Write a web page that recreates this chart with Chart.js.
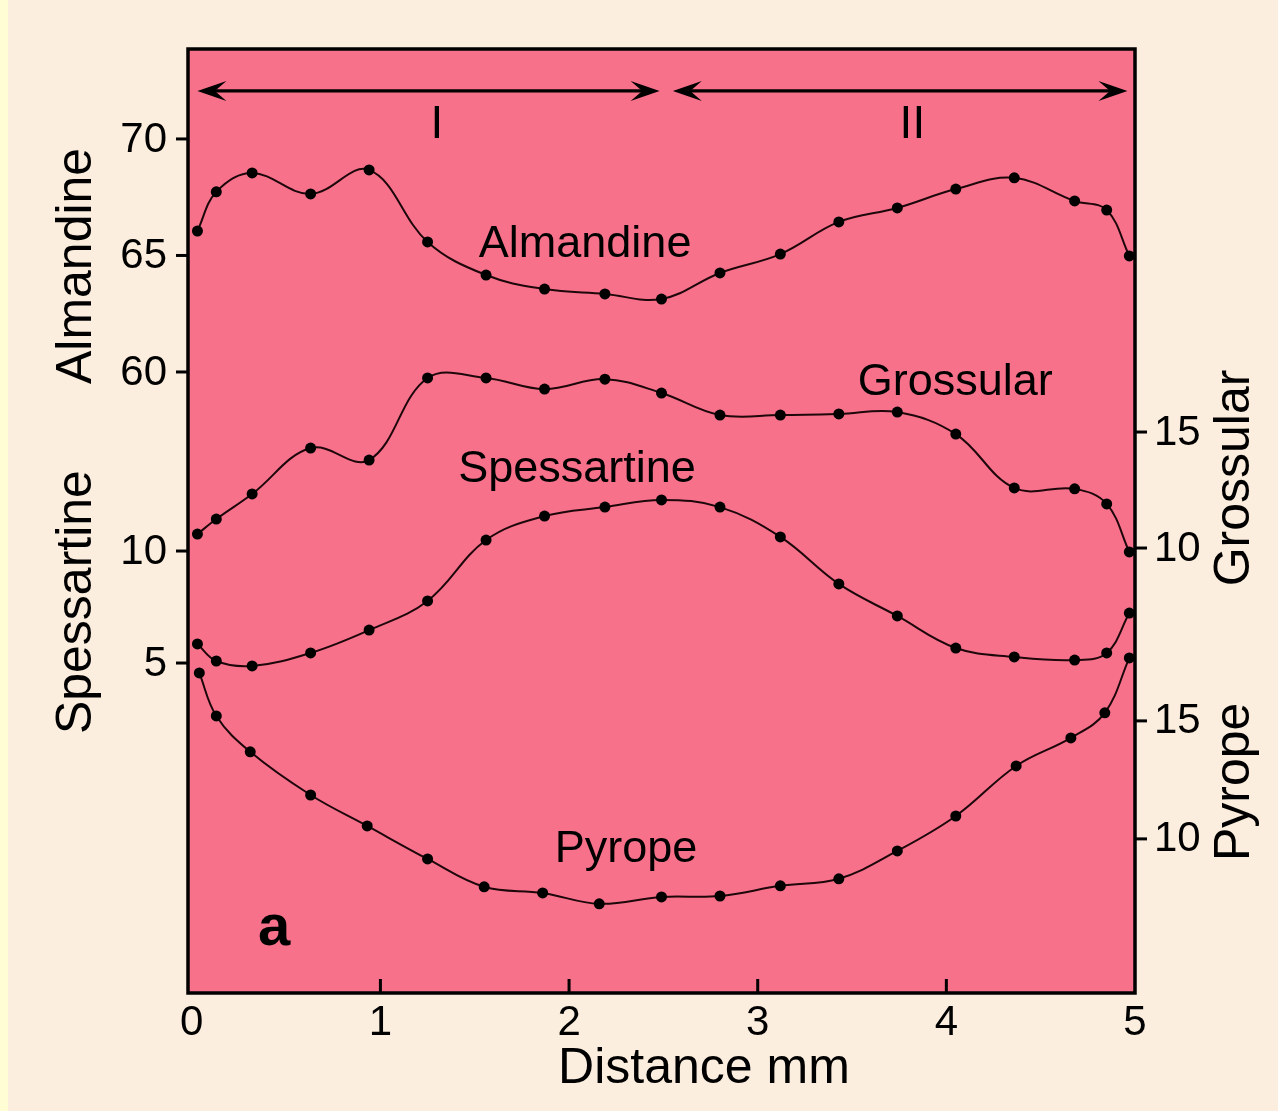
<!DOCTYPE html>
<html>
<head>
<meta charset="utf-8">
<script src="https://cdn.jsdelivr.net/npm/chart.js@4.4.1/dist/chart.umd.min.js"></script>
<style>
html,body{margin:0;padding:0;background:#FCEEDE;}
canvas{display:block;}
</style>
</head>
<body>
<canvas id="c" width="1278" height="1111"></canvas>
<script>
// ---- data ----
const distance = [0.03,0.13,0.32,0.63,0.94,1.25,1.56,1.87,2.19,2.49,2.80,3.12,3.43,3.74,4.05,4.36,4.68,4.85,4.97];
const distancePyrope = [0.04,0.13,0.31,0.63,0.93,1.25,1.55,1.86,2.16,2.49,2.80,3.12,3.43,3.74,4.05,4.37,4.66,4.84,4.97];
const almandine = [66.05,67.73,68.54,67.64,68.67,65.58,64.16,63.56,63.35,63.13,64.25,65.06,66.44,67.04,67.85,68.33,67.34,66.95,64.98];
const grossular = [10.60,11.25,12.33,14.31,13.79,17.33,17.33,16.85,17.28,16.68,15.73,15.73,15.78,15.86,14.91,12.59,12.55,11.90,9.83];
const spessartine = [5.85,5.09,4.87,5.45,6.47,7.77,10.49,11.56,11.96,12.28,11.96,10.63,8.53,7.10,5.67,5.27,5.13,5.45,7.23];
const pyrope = [17.03,15.21,13.69,11.86,10.55,9.15,7.97,7.71,7.25,7.54,7.58,8.01,8.31,9.49,10.97,13.09,14.28,15.34,17.67];

const distanceTicks = [0,1,2,3,4,5];
const almandineTicks = [60,65,70];
const spessartineTicks = [5,10];
const grossularTicks = [10,15];
const pyropeTicks = [10,15];
const zoneNames = ['I','II'];
const curveNames = ['Almandine','Grossular','Spessartine','Pyrope'];
const xTitle = 'Distance mm';
const panelLetter = 'a';

// ---- styling / annotation placement ----
const FONT = "'Liberation Sans', Arial, Helvetica, sans-serif";
const INK = '#000000';
const LINE = '#1e070b';
const PINK = '#F7718B';

const zones = [
  {from:0.03, to:2.48, labelX:1.30, label:zoneNames[0]},
  {from:2.55, to:4.96, labelX:3.82, label:zoneNames[1]}
];
const zoneArrowY = {axis:'yAlm', v:72.06};
const zoneLabelY = {axis:'yAlm', v:70.04};

const inlineLabels = [
  {text:curveNames[0], x:2.085, axis:'yAlm', v:64.94},
  {text:curveNames[1], x:4.047, axis:'yGro', v:16.59},
  {text:curveNames[2], x:2.042, axis:'ySpe', v:13.08},
  {text:curveNames[3], x:2.302, axis:'yPyr', v:9.03}
];

const sideAxes = [
  {axis:'yAlm', side:'left',  ticks:almandineTicks,  title:curveNames[0], titleV:64.55},
  {axis:'ySpe', side:'left',  ticks:spessartineTicks,title:curveNames[2], titleV:7.72},
  {axis:'yGro', side:'right', ticks:grossularTicks,  title:curveNames[1], titleV:13.02},
  {axis:'yPyr', side:'right', ticks:pyropeTicks,     title:curveNames[3], titleV:12.42}
];

function arrowHead(ctx, x, y, dir){
  const L = 29, W = 10;
  ctx.beginPath();
  ctx.moveTo(x, y);
  ctx.lineTo(x - dir*L, y - W);
  ctx.lineTo(x - dir*L*0.6, y);
  ctx.lineTo(x - dir*L, y + W);
  ctx.closePath();
  ctx.fill();
}

const decor = {
  id:'decor',
  beforeDraw(chart){
    const {ctx, width, height, chartArea:a} = chart;
    ctx.save();
    ctx.fillStyle = '#FCEEDE';
    ctx.fillRect(0,0,width,height);
    ctx.fillStyle = '#FFFDD4';
    ctx.fillRect(0,0,8,height);
    ctx.fillStyle = PINK;
    ctx.fillRect(a.left,a.top,a.right-a.left,a.bottom-a.top);
    ctx.restore();
  },
  afterDraw(chart){
    const {ctx, chartArea:a, scales} = chart;
    const sx = scales.x;
    ctx.save();
    ctx.strokeStyle = INK;
    ctx.fillStyle = INK;

    // x tick marks (inward)
    ctx.lineWidth = 3;
    distanceTicks.forEach(t=>{
      if (t<=0 || t>=5) return;
      const px = sx.getPixelForValue(t);
      ctx.beginPath(); ctx.moveTo(px, a.bottom); ctx.lineTo(px, a.bottom-14); ctx.stroke();
    });

    // y axes: ticks, labels, titles
    sideAxes.forEach(ax=>{
      const s = scales[ax.axis];
      const left = ax.side==='left';
      const edge = left ? a.left : a.right;
      ctx.lineWidth = 3;
      ctx.font = '42px ' + FONT;
      ctx.textAlign = left ? 'right' : 'left';
      ctx.textBaseline = 'middle';
      ax.ticks.forEach(t=>{
        const py = s.getPixelForValue(t);
        ctx.beginPath();
        ctx.moveTo(edge, py);
        ctx.lineTo(left ? edge-12 : edge+12, py);
        ctx.stroke();
        ctx.fillText(String(t), left ? edge-21 : edge+19, py+1);
      });
      // rotated title
      const ty = s.getPixelForValue(ax.titleV);
      const bx = left ? a.left-97 : a.right+114;
      ctx.save();
      ctx.translate(bx, ty);
      ctx.rotate(-Math.PI/2);
      ctx.font = '50px ' + FONT;
      ctx.textAlign = 'center';
      ctx.textBaseline = 'alphabetic';
      ctx.fillText(ax.title, 0, 0);
      ctx.restore();
    });

    // x title
    ctx.font = '50px ' + FONT;
    ctx.textAlign = 'center';
    ctx.textBaseline = 'alphabetic';
    ctx.fillText(xTitle, sx.getPixelForValue(2.715), a.bottom+90);

    // zone arrows
    const ay = scales[zoneArrowY.axis].getPixelForValue(zoneArrowY.v);
    const ly = scales[zoneLabelY.axis].getPixelForValue(zoneLabelY.v);
    zones.forEach(z=>{
      const x1 = sx.getPixelForValue(z.from), x2 = sx.getPixelForValue(z.to);
      ctx.lineWidth = 3.2;
      ctx.beginPath(); ctx.moveTo(x1+12, ay); ctx.lineTo(x2-12, ay); ctx.stroke();
      arrowHead(ctx, x1, ay, -1);
      arrowHead(ctx, x2, ay, 1);
      ctx.font = '46px ' + FONT;
      ctx.textAlign = 'center';
      ctx.textBaseline = 'alphabetic';
      ctx.fillText(z.label, sx.getPixelForValue(z.labelX), ly);
    });

    // inline curve labels
    ctx.font = '45px ' + FONT;
    ctx.textAlign = 'center';
    ctx.textBaseline = 'alphabetic';
    inlineLabels.forEach(l=>{
      ctx.fillText(l.text, sx.getPixelForValue(l.x), scales[l.axis].getPixelForValue(l.v));
    });

    // panel letter
    ctx.font = 'bold 58px ' + FONT;
    ctx.fillText(panelLetter, sx.getPixelForValue(0.436), scales.yPyr.getPixelForValue(5.51));

    // plot frame
    ctx.lineWidth = 3.5;
    ctx.strokeRect(a.left, a.top, a.right-a.left, a.bottom-a.top);
    ctx.restore();
  }
};

function series(label, xs, ys, axis){
  return {
    label,
    data: xs.map((x,i)=>({x, y: ys[i]})),
    yAxisID: axis,
    borderColor: LINE,
    borderWidth: 2,
    backgroundColor: INK,
    pointBackgroundColor: INK,
    pointBorderColor: INK,
    pointRadius: 5.5,
    pointBorderWidth: 0,
    tension: 0.38,
    fill: false
  };
}

new Chart(document.getElementById('c'), {
  type: 'line',
  data: {
    datasets: [
      series(curveNames[0], distance, almandine, 'yAlm'),
      series(curveNames[1], distance, grossular, 'yGro'),
      series(curveNames[2], distance, spessartine, 'ySpe'),
      series(curveNames[3], distancePyrope, pyrope, 'yPyr')
    ]
  },
  options: {
    responsive: false,
    animation: false,
    events: [],
    layout: { padding: { left: 188, right: 143, top: 49, bottom: 68 } },
    plugins: { legend: { display: false }, tooltip: { enabled: false } },
    scales: {
      x: {
        type: 'linear',
        min: -0.02, max: 5,
        afterBuildTicks: s => { s.ticks = distanceTicks.map(v => ({value: v})); },
        afterFit: s => { s.height = 50; },
        grid: { display: false, drawTicks: false },
        border: { display: false },
        ticks: { color: INK, font: { family: FONT, size: 42 }, padding: 5, maxRotation: 0, autoSkip: false }
      },
      yAlm: { type: 'linear', display: false, min: 33.35, max: 73.86 },
      ySpe: { type: 'linear', display: false, min: -9.73, max: 32.41 },
      yGro: { type: 'linear', display: false, min: -9.18, max: 31.51, position: 'right' },
      yPyr: { type: 'linear', display: false, min: 3.47, max: 43.47, position: 'right' }
    }
  },
  plugins: [decor]
});
</script>
</body>
</html>
